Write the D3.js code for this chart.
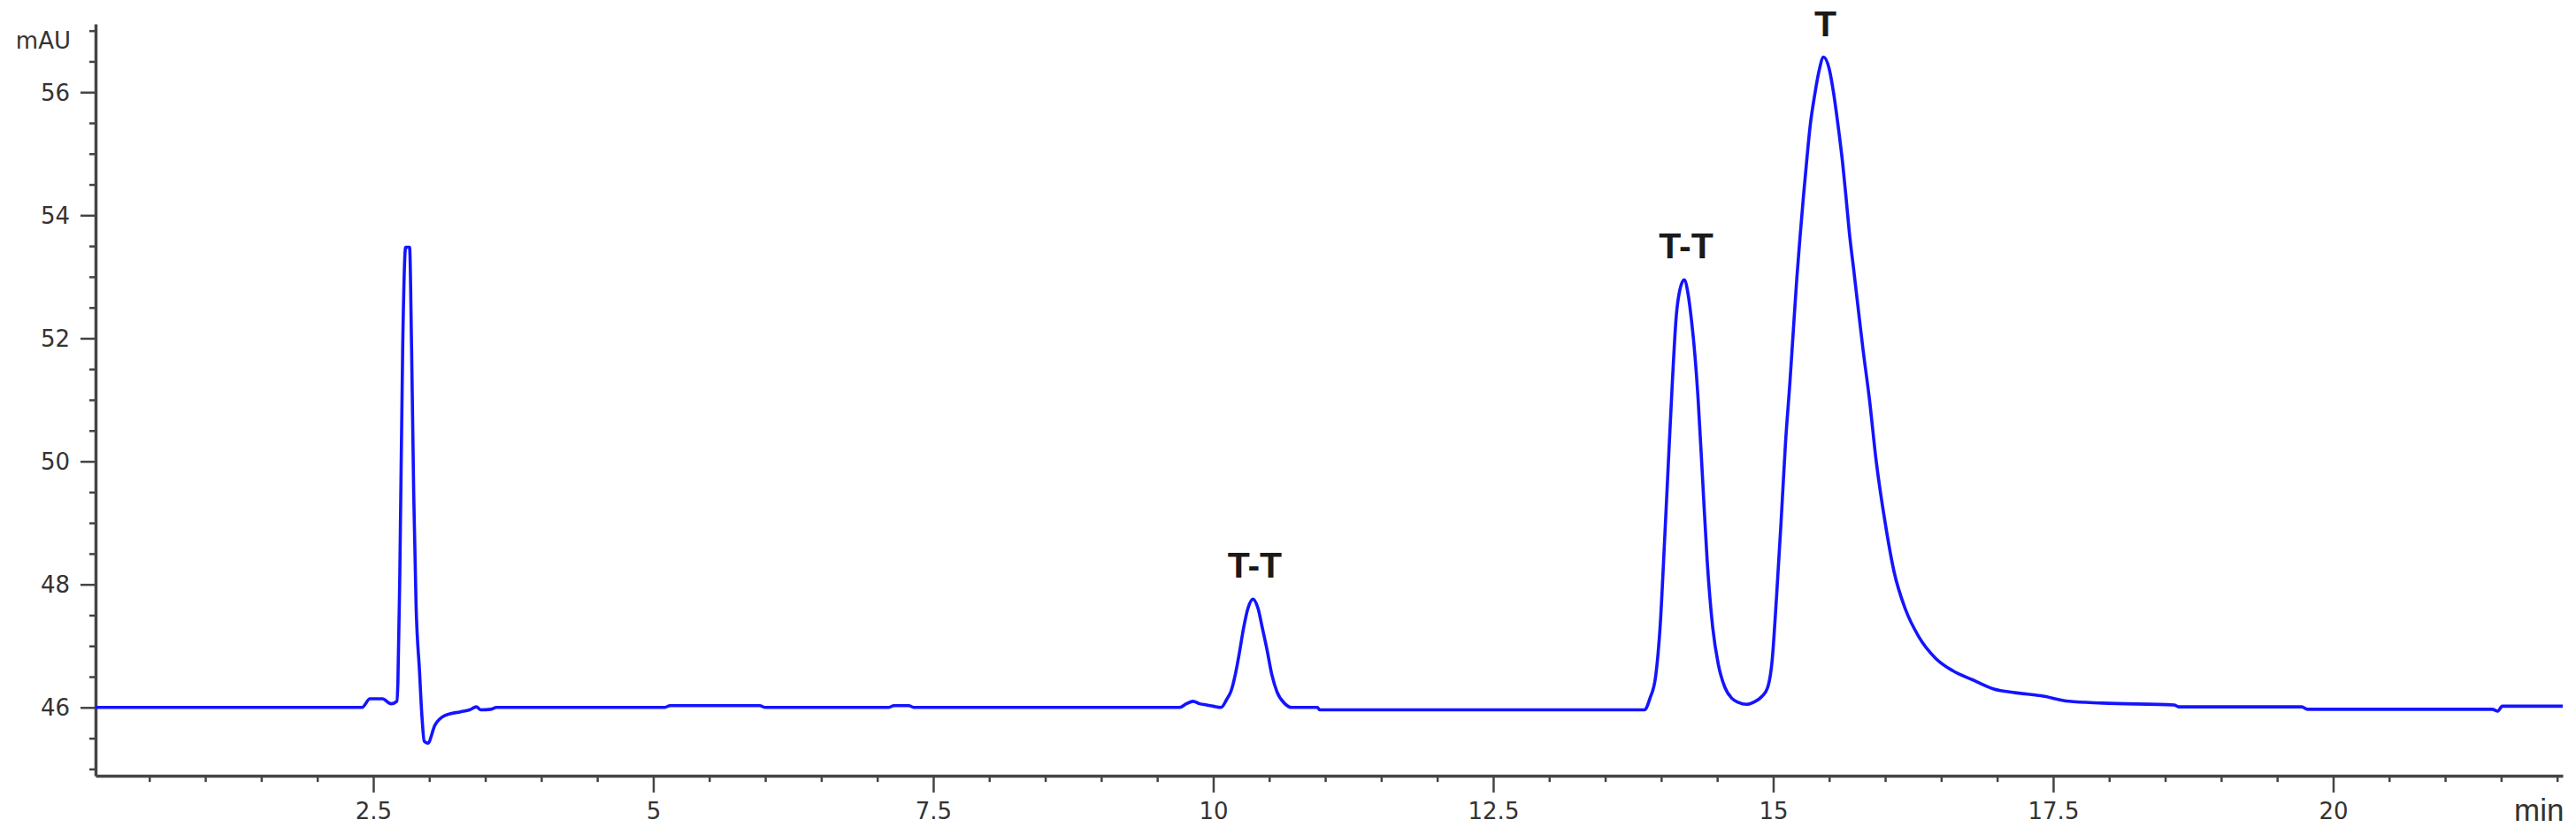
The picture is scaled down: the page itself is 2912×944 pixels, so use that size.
<!DOCTYPE html>
<html><head><meta charset="utf-8">
<script src="https://cdn.jsdelivr.net/npm/d3@7"></script>
<style>body{margin:0;background:#fff}svg{display:block;background:#fff}</style>
</head><body>
<svg id="c" width="2912" height="944"></svg>
<script>
// Retention time (min)
const times = [
 0.02, 2.40, 2.47, 2.58, 2.66, 2.71, 2.72, 2.737, 2.763, 2.789, 2.824, 2.842, 2.861, 2.882, 2.913, 2.934, 2.955, 2.987,
 3.05, 3.14, 3.28, 3.36, 3.42, 3.46, 3.55, 3.60, 5.10, 5.15, 5.95, 6.00, 7.10, 7.15, 7.28, 7.33,
 9.70, 9.76, 9.82, 9.88, 9.94, 10.00, 10.07, 10.12, 10.16, 10.20, 10.23, 10.27, 10.31, 10.355, 10.40, 10.44, 10.48, 10.52, 10.57, 10.64, 10.70, 10.93, 10.95,
 13.85, 13.90, 13.95, 13.99, 14.03, 14.07, 14.10, 14.135, 14.166, 14.206, 14.24, 14.27, 14.30, 14.33, 14.37, 14.41, 14.46, 14.51, 14.57, 14.63, 14.69, 14.76, 14.83, 14.90, 14.95,
 14.99, 15.03, 15.07, 15.11, 15.15, 15.18, 15.21, 15.24, 15.27, 15.30, 15.33, 15.37, 15.41, 15.45, 15.50, 15.54, 15.58, 15.62, 15.65, 15.68, 15.72, 15.76, 15.80,
 15.86, 15.92, 16.00, 16.08, 16.18, 16.30, 16.45, 16.60, 16.78, 16.97, 17.16, 17.39, 17.64, 17.94, 18.58, 18.62, 19.72, 19.77, 21.42, 21.47, 21.51, 22.05
];
// Absorbance (mAU)
const signal = [
 46.00, 46.00, 46.14, 46.14, 46.06, 46.10, 46.42, 48.18, 51.90, 53.48, 53.48, 51.84, 49.47, 47.67, 46.58, 45.87, 45.45, 45.42,
 45.71, 45.87, 45.93, 45.96, 46.01, 45.96, 45.97, 46.00, 46.00, 46.03, 46.03, 46.00, 46.00, 46.03, 46.03, 46.00,
 46.00, 46.06, 46.10, 46.06, 46.04, 46.02, 46.00, 46.13, 46.27, 46.56, 46.85, 47.28, 47.61, 47.76, 47.61, 47.28, 46.94, 46.56, 46.25, 46.06, 46.00, 46.00, 45.96,
 45.96, 46.15, 46.50, 47.30, 48.70, 50.20, 51.30, 52.37, 52.78, 52.95, 52.72, 52.30, 51.75, 51.00, 49.70, 48.40, 47.30, 46.70, 46.32, 46.15, 46.08, 46.05, 46.09, 46.18, 46.32,
 46.75, 47.80, 49.00, 50.30, 51.30, 52.13, 52.95, 53.65, 54.30, 54.90, 55.45, 55.95, 56.35, 56.57, 56.38, 55.98, 55.45, 54.85, 54.30, 53.72, 53.10, 52.47, 51.85,
 51.00, 50.00, 49.00, 48.20, 47.60, 47.15, 46.80, 46.60, 46.45, 46.30, 46.24, 46.19, 46.10, 46.07, 46.04, 46.01, 46.01, 45.97, 45.97, 45.94, 46.02, 46.02
];
const yTickLabels = [46, 48, 50, 52, 54, 56];
const xTickLabels = [2.5, 5, 7.5, 10, 12.5, 15, 17.5, 20];
const peakNames = ["T-T", "T-T", "T"];
const peakTimes = [10.355, 14.206, 15.45];

const svg = d3.select("#c");
const W = 2912, H = 944;
const x = d3.scaleLinear().domain([0.02, 22.05]).range([108, 2897]);
const y = d3.scaleLinear().domain([44.89, 57.11]).range([877, 27]);
const axisColor = "#444";

// minor ticks
const xMinor = d3.range(0.5, 22.01, 0.5).filter(v => !xTickLabels.includes(v));
const yMinor = d3.range(45, 57.01, 0.5).filter(v => !yTickLabels.includes(v));

const gxMinor = svg.append("g").attr("transform", `translate(0,${y.range()[0]})`)
  .call(d3.axisBottom(x).tickValues(xMinor).tickSize(7).tickSizeOuter(0).tickFormat(""));
const gyMinor = svg.append("g").attr("transform", `translate(${x.range()[0]},0)`)
  .call(d3.axisLeft(y).tickValues(yMinor).tickSize(7).tickSizeOuter(0).tickFormat(""));
[gxMinor, gyMinor].forEach(g => { g.select(".domain").remove(); g.selectAll("line").attr("stroke", axisColor).attr("stroke-width", 2.5); });

const gx = svg.append("g").attr("transform", `translate(0,${y.range()[0]})`)
  .call(d3.axisBottom(x).tickValues(xTickLabels).tickSize(19).tickSizeOuter(0).tickPadding(12).tickFormat(d => String(d)));
const gy = svg.append("g").attr("transform", `translate(${x.range()[0]},0)`)
  .call(d3.axisLeft(y).tickValues(yTickLabels).tickSize(17).tickSizeOuter(0).tickPadding(12).tickFormat(d => String(d)));
[gx, gy].forEach(g => {
  g.select(".domain").attr("stroke", axisColor).attr("stroke-width", 3.5);
  g.selectAll(".tick line").attr("stroke", axisColor).attr("stroke-width", 2.5);
  g.selectAll("text").attr("font-family", "DejaVu Sans, sans-serif").attr("font-size", 26).attr("fill", "#333");
});
gy.selectAll("text").attr("dy", "0.34em");

// unit labels
svg.append("text").attr("x", 80).attr("y", 55).attr("text-anchor", "end")
  .attr("font-family", "DejaVu Sans, sans-serif").attr("font-size", 26).attr("fill", "#333").text("mAU");
svg.append("clipPath").attr("id", "minclip").append("rect").attr("x", 0).attr("y", 0).attr("width", 2900).attr("height", H);
svg.append("text").attr("x", 2842).attr("y", 928).attr("clip-path", "url(#minclip)")
  .attr("font-family", "Liberation Sans, Arial, sans-serif").attr("font-size", 35).attr("fill", "#333").text("min");

// trace
const pts = times.map((t, i) => [t, signal[i]]);
svg.append("path").datum(pts)
  .attr("fill", "none").attr("stroke", "#1414ff").attr("stroke-width", 3.6).attr("stroke-linejoin", "round")
  .attr("d", d3.line().curve(d3.curveMonotoneX).x(d => x(d[0])).y(d => y(d[1])));

// peak labels
peakNames.forEach((name, i) => {
  const near = pts.filter(p => Math.abs(p[0] - peakTimes[i]) < 0.1);
  const top = d3.max(near, p => p[1]);
  svg.append("text").attr("x", x(peakTimes[i]) + 2).attr("y", y(top) - 24)
    .attr("text-anchor", "middle").attr("font-family", "Liberation Sans, Arial, sans-serif")
    .attr("font-weight", "bold").attr("font-size", 41).attr("fill", "#1a1a1a").text(name);
});
</script>
</body></html>
